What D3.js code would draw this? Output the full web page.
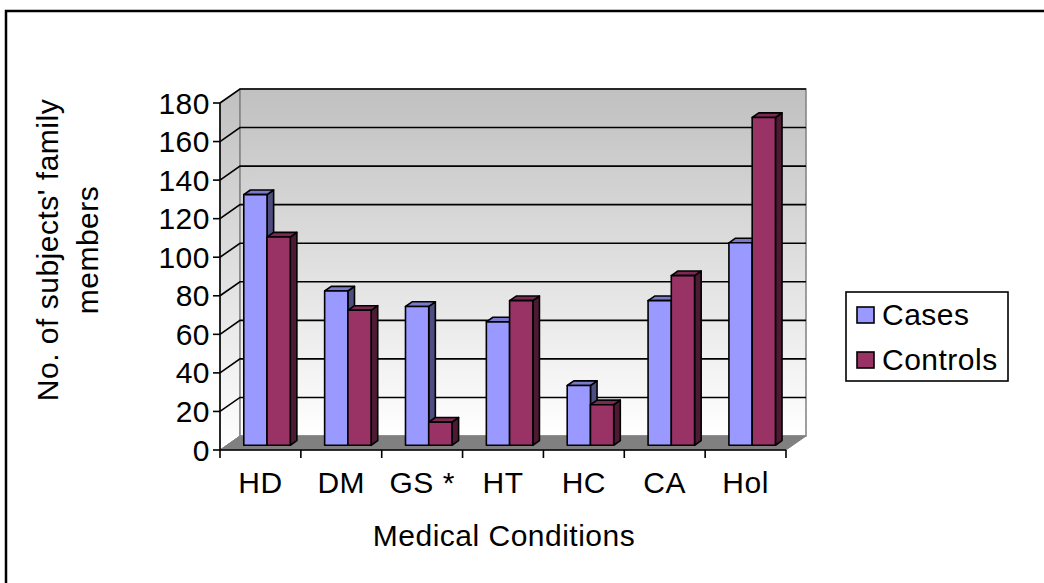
<!DOCTYPE html>
<html>
<head>
<meta charset="utf-8">
<script src="https://cdnjs.cloudflare.com/ajax/libs/d3/7.8.5/d3.min.js"></script>
<style>
  html, body { margin: 0; padding: 0; background: #fff; }
  svg { display: block; }
  text { font-family: "Liberation Sans", Arial, sans-serif; fill: #000; letter-spacing: 0.5px; }
</style>
</head>
<body>
<svg id="chart" width="1044" height="583"></svg>
<script>
// Family history of medical conditions: cases vs controls
const categories = ["HD", "DM", "GS *", "HT", "HC", "CA", "Hol"];
const seriesNames = ["Cases", "Controls"];
const casesValues = [130, 80, 72, 64, 31, 75, 105];
const controlsValues = [108, 70, 12, 75, 21, 88, 170];
const yTicks = [0, 20, 40, 60, 80, 100, 120, 140, 160, 180];

const palette = {
  Cases:    { front: "#9999ff", side: "#4d4d80", top: "#7a7acc" },
  Controls: { front: "#993366", side: "#4d1a33", top: "#7a2952" }
};

const svg = d3.select("#chart");
const fontSize = 30;

// Outer frame
svg.append("rect")
  .attr("x", 6).attr("y", 11).attr("width", 1060).attr("height", 600)
  .attr("fill", "none").attr("stroke", "#000").attr("stroke-width", 2.5);

// 3D projection: depth vector for the full floor depth
const DX = 20, DY = -14;
const x0 = 220, x1 = 786;

const y = d3.scaleLinear().domain([0, 180]).range([450, 103]);
const x = d3.scaleBand().domain(categories).range([x0, x1]).padding(0);
const bw = x.bandwidth();
const xs = d3.scaleBand().domain(seriesNames)
  .range([bw * 0.21, bw * 0.785]).padding(0);

const yTop = y(180), yBot = y(0);

// Gradients for walls
const defs = svg.append("defs");
const g1 = defs.append("linearGradient").attr("id", "wallGrad")
  .attr("x1", 0).attr("y1", 0).attr("x2", 0).attr("y2", 1);
g1.append("stop").attr("offset", "0%").attr("stop-color", "#c0c0c0");
g1.append("stop").attr("offset", "100%").attr("stop-color", "#ffffff");

// Side wall (left)
svg.append("path")
  .attr("d", `M${x0},${yBot} L${x0},${yTop} L${x0 + DX},${yTop + DY} L${x0 + DX},${yBot + DY} Z`)
  .attr("fill", "url(#wallGrad)").attr("stroke", "#808080").attr("stroke-width", 1);

// Back wall
svg.append("rect")
  .attr("x", x0 + DX).attr("y", yTop + DY)
  .attr("width", x1 - x0).attr("height", yBot - yTop)
  .attr("fill", "url(#wallGrad)").attr("stroke", "#808080").attr("stroke-width", 1.5);

// Floor
svg.append("path")
  .attr("d", `M${x0},${yBot} L${x0 + DX},${yBot + DY} L${x1 + DX},${yBot + DY} L${x1},${yBot} Z`)
  .attr("fill", "#808080").attr("stroke", "#808080").attr("stroke-width", 1);

// Gridlines: side wall diagonal + back wall horizontal
const grid = svg.append("g");
yTicks.filter(v => v > 0).forEach(v => {
  const yy = y(v);
  grid.append("path")
    .attr("d", `M${x0},${yy} L${x0 + DX},${yy + DY} L${x1 + DX},${yy + DY}`)
    .attr("fill", "none").attr("stroke", "#000").attr("stroke-width", 1.6);
});

// Bars
const t0 = 0.34, t1 = 0.67;
const fdx = DX * t0, fdy = DY * t0;
const ddx = DX * (t1 - t0), ddy = DY * (t1 - t0);

const rows = [];
categories.forEach((c, i) => {
  rows.push({ cat: c, s: "Cases", v: casesValues[i] });
  rows.push({ cat: c, s: "Controls", v: controlsValues[i] });
});

const bars = svg.append("g");
rows.forEach(d => {
  const left = x(d.cat) + xs(d.s) + fdx;
  const right = left + xs.bandwidth();
  const top = y(d.v) + fdy;
  const bot = y(0) + fdy;
  const col = palette[d.s];
  const g = bars.append("g").attr("stroke", "#000").attr("stroke-width", 1.6)
    .attr("stroke-linejoin", "round");
  // right face
  g.append("path")
    .attr("d", `M${right},${bot} L${right},${top} L${right + ddx},${top + ddy} L${right + ddx},${bot + ddy} Z`)
    .attr("fill", col.side);
  // top face
  g.append("path")
    .attr("d", `M${left},${top} L${left + ddx},${top + ddy} L${right + ddx},${top + ddy} L${right},${top} Z`)
    .attr("fill", col.top);
  // front face
  g.append("rect")
    .attr("x", left).attr("y", top).attr("width", right - left).attr("height", bot - top)
    .attr("fill", col.front);
});

// Y axis (front)
const yAxis = svg.append("g");
yAxis.append("line")
  .attr("x1", x0).attr("x2", x0).attr("y1", yTop).attr("y2", yBot)
  .attr("stroke", "#000").attr("stroke-width", 1.6);
yTicks.forEach(v => {
  yAxis.append("line")
    .attr("x1", x0 - 7).attr("x2", x0).attr("y1", y(v)).attr("y2", y(v))
    .attr("stroke", "#000").attr("stroke-width", 1.6);
  yAxis.append("text")
    .attr("x", x0 - 10).attr("y", y(v)).attr("dy", "0.35em")
    .attr("text-anchor", "end").attr("font-size", fontSize)
    .text(v);
});

// X axis (front)
const xAxis = svg.append("g");
xAxis.append("line")
  .attr("x1", x0).attr("x2", x1).attr("y1", yBot).attr("y2", yBot)
  .attr("stroke", "#000").attr("stroke-width", 1.6);
const xTickPos = categories.map(c => x(c)).concat([x1]);
xTickPos.forEach(p => {
  xAxis.append("line")
    .attr("x1", p).attr("x2", p).attr("y1", yBot).attr("y2", yBot + 8)
    .attr("stroke", "#000").attr("stroke-width", 1.6);
});
categories.forEach(c => {
  xAxis.append("text")
    .attr("x", x(c) + bw / 2).attr("y", 493)
    .attr("text-anchor", "middle").attr("font-size", fontSize)
    .text(c);
});

// Axis titles
svg.append("text")
  .attr("x", 504).attr("y", 546)
  .attr("text-anchor", "middle").attr("font-size", fontSize)
  .text("Medical Conditions");

const yTitle = svg.append("text")
  .attr("transform", "translate(58,250) rotate(-90)")
  .attr("text-anchor", "middle").attr("font-size", fontSize);
yTitle.append("tspan").attr("x", 0).attr("y", 0).text("No. of subjects' family");
yTitle.append("tspan").attr("x", 0).attr("y", 40).text("members");

// Legend
const lg = svg.append("g");
lg.append("rect")
  .attr("x", 846).attr("y", 292).attr("width", 162).attr("height", 89)
  .attr("fill", "#fff").attr("stroke", "#000").attr("stroke-width", 1.6);
seriesNames.forEach((s, i) => {
  const yy = 307 + i * 45;
  lg.append("rect")
    .attr("x", 857).attr("y", yy).attr("width", 17).attr("height", 16)
    .attr("fill", palette[s].front).attr("stroke", "#000").attr("stroke-width", 1.6);
  lg.append("text")
    .attr("x", 882).attr("y", yy + 18).attr("font-size", fontSize)
    .text(s);
});
</script>
</body>
</html>
